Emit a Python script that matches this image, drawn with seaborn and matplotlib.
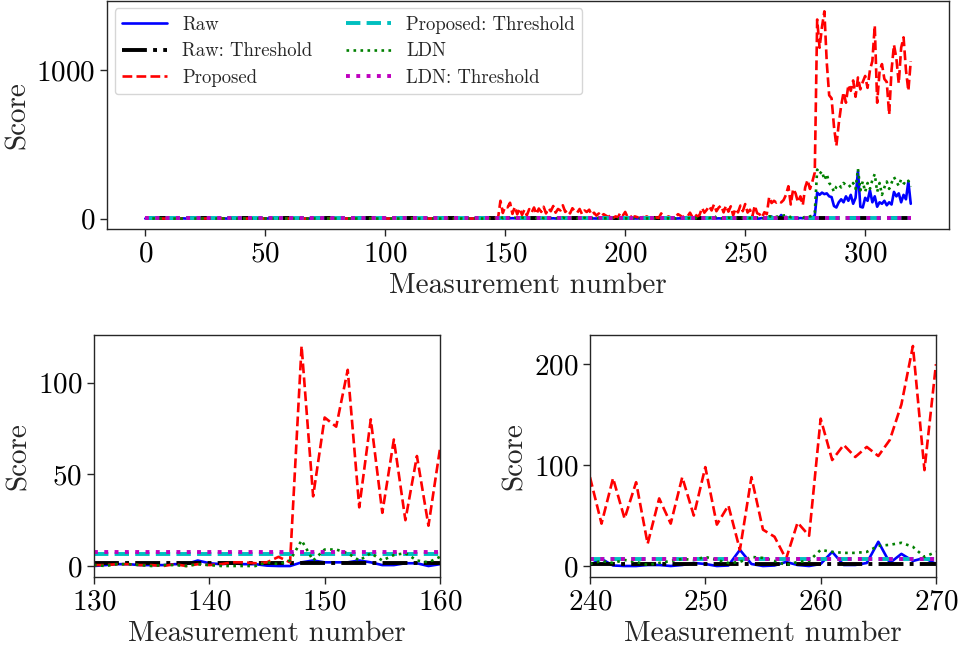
import pandas as pd
import matplotlib.pyplot as plt
import seaborn as sns

raw = [
    0.5, 1.0, 0.2, 1.5, 0.8, 0.3, 1.2, 0.6, 0.1, 0.9,        # 0
    1.4, 0.4, 0.7, 1.1, 0.2, 0.9, 1.6, 0.5, 0.3, 1.0,        # 10
    0.6, 1.3, 0.2, 0.8, 1.1, 0.4, 0.7, 1.5, 0.3, 0.9,        # 20
    1.2, 0.5, 0.2, 1.0, 0.6, 1.4, 0.3, 0.8, 1.1, 0.4,        # 30
    0.9, 1.6, 0.5, 0.2, 1.0, 0.7, 1.3, 0.4, 0.8, 1.2,        # 40
    0.3, 0.9, 1.5, 0.6, 0.2, 1.1, 0.7, 0.4, 1.3, 0.8,        # 50
    0.5, 1.0, 0.3, 1.4, 0.9, 0.2, 0.7, 1.2, 0.5, 1.0,        # 60
    1.6, 0.4, 0.8, 0.3, 1.1, 0.6, 1.3, 0.2, 0.9, 0.5,        # 70
    1.2, 0.7, 0.3, 1.0, 1.5, 0.4, 0.8, 0.2, 1.1, 0.6,        # 80
    0.9, 1.4, 0.5, 0.3, 1.0, 0.7, 1.2, 0.4, 0.8, 1.3,        # 90
    0.2, 0.9, 0.6, 1.1, 1.5, 0.3, 0.8, 0.5, 1.0, 0.4,        # 100
    1.3, 0.7, 0.2, 0.9, 1.2, 0.6, 0.3, 1.0, 1.4, 0.5,        # 110
    0.8, 0.2, 1.1, 0.6, 0.9, 1.3, 0.4, 0.7, 1.0, 0.3,        # 120
    0.0, 0.5, 1.0, 1.0, 0.5, 0.5, 0.5, 1.0, 1.0, 3.0,        # 130
    1.5, 1.0, 1.5, 1.0, 1.0, 0.2, 0.0, 0.0, 2.0, 3.0,        # 140
    2.0, 2.0, 2.0, 3.0, 2.0, 0.5, 0.5, 1.5, 1.5, 0.0,        # 150
    1.0, 1.5, 0.8, 2.0, 1.2, 0.6, 1.8, 1.0, 0.4, 1.5,        # 160
    2.2, 0.9, 1.3, 0.5, 1.7, 1.1, 0.3, 1.4, 2.0, 0.8,        # 170
    1.2, 0.6, 1.9, 1.0, 0.4, 1.6, 0.9, 1.3, 0.7, 2.1,        # 180
    1.0, 0.5, 1.4, 0.8, 1.8, 1.1, 0.3, 1.5, 0.9, 1.2,        # 190
    0.6, 1.7, 1.0, 0.4, 1.3, 0.8, 2.0, 1.1, 0.5, 1.4,        # 200
    0.9, 1.6, 0.7, 1.2, 0.3, 1.0, 1.8, 0.6, 1.3, 0.9,        # 210
    1.5, 0.4, 1.1, 2.0, 0.8, 1.3, 0.5, 1.7, 1.0, 1.4,        # 220
    0.7, 2.2, 1.2, 0.9, 3.5, 1.5, 6.0, 2.0, 1.0, 1.8,        # 230
    1.0, 7.0, 0.5, 0.0, 0.0, 1.0, 1.0, 0.0, 1.0, 3.0,        # 240
    2.0, 0.0, 0.5, 16.0, 2.0, 0.0, 0.5, 4.0, 1.0, 0.0,       # 250
    2.0, 14.0, 1.0, 1.0, 3.0, 24.0, 3.0, 12.0, 5.0, 8.0,     # 260
    2.0, 3.0, 1.5, 4.0, 2.5, 5.0, 3.0, 6.0, 8.0, 20.0,       # 270
    175, 160, 175, 165, 170, 150, 145, 85, 75, 110,          # 280
    130, 110, 150, 120, 160, 100, 140, 320, 80, 75,          # 290
    140, 120, 190, 110, 150, 80, 110, 100, 120, 90,          # 300
    110, 95, 180, 150, 170, 110, 160, 130, 250, 100,         # 310
]

proposed = [
    1.0, 0.5, 1.2, 0.3, 0.8, 1.5, 0.4, 0.9, 0.2, 1.1,        # 0
    0.6, 1.3, 0.4, 0.8, 1.6, 0.3, 0.7, 1.0, 0.5, 1.2,        # 10
    0.2, 0.9, 1.4, 0.6, 0.3, 1.1, 0.8, 0.4, 1.3, 0.7,        # 20
    0.5, 1.0, 1.6, 0.3, 0.8, 0.4, 1.2, 0.9, 0.2, 1.0,        # 30
    1.4, 0.6, 0.3, 1.1, 0.7, 1.5, 0.4, 0.9, 1.2, 0.5,        # 40
    0.8, 0.3, 1.3, 1.0, 0.6, 0.2, 1.4, 0.7, 0.9, 1.1,        # 50
    0.4, 1.6, 0.8, 0.5, 1.0, 1.3, 0.3, 0.9, 0.6, 1.2,        # 60
    0.2, 1.0, 1.5, 0.7, 0.4, 1.1, 0.8, 1.4, 0.3, 0.9,        # 70
    1.2, 0.6, 0.3, 1.0, 0.8, 1.6, 0.5, 0.9, 1.3, 0.4,        # 80
    0.7, 1.1, 0.2, 1.4, 0.9, 0.5, 1.2, 0.8, 0.3, 1.0,        # 90
    1.5, 0.6, 0.9, 0.4, 1.3, 0.7, 1.0, 0.2, 1.1, 0.8,        # 100
    0.5, 1.4, 0.9, 0.3, 1.2, 0.6, 1.0, 1.6, 0.4, 0.8,        # 110
    1.1, 0.3, 0.7, 1.3, 0.5, 1.0, 0.8, 1.4, 0.6, 0.9,        # 120
    0.5, 0.5, 1.0, 1.0, 0.5, 0.5, 0.0, 1.0, 0.0, 1.0,        # 130
    0.5, 1.0, 2.0, 2.0, 1.5, 2.0, 5.0, 2.0, 120, 38,         # 140
    81, 76, 107, 32, 80, 29, 69, 25, 60, 22,                 # 150
    64, 40, 75, 30, 68, 45, 80, 35, 70, 50,                  # 160
    85, 40, 65, 55, 90, 45, 60, 35, 70, 50,                  # 170
    40, 65, 30, 55, 45, 60, 25, 40, 20, 35,                  # 180
    15, 30, 20, 10, 25, 5, 15, 10, 40, 20,                   # 190
    45, 10, 20, 5, 15, 10, 5, 12, 8, 15,                     # 200
    5, 10, 3, 8, 5, 35, 10, 5, 15, 8,                        # 210
    3, 10, 30, 20, 8, 25, 15, 40, 10, 30,                    # 220
    15, 25, 72, 40, 60, 85, 55, 95, 50, 75,                  # 230
    88, 42, 87, 47, 83, 22, 67, 42, 88, 50,                  # 240
    98, 41, 60, 16, 88, 36, 29, 7, 43, 30,                   # 250
    146, 105, 120, 108, 118, 109, 125, 160, 218, 95,         # 260
    200, 170, 110, 150, 90, 210, 260, 200, 250, 310,         # 270
    1340, 1150, 1290, 1395, 1050, 830, 810, 620, 490, 640,   # 280
    760, 850, 780, 900, 860, 930, 820, 950, 870, 920,        # 290
    960, 880, 1000, 1060, 1300, 780, 990, 1040, 940, 920,    # 300
    700, 1000, 1170, 1080, 910, 1150, 1220, 1000, 860, 1060, # 310
]

ldn = [
    0.3, 0.8, 0.1, 0.5, 1.0, 0.2, 0.6, 0.4, 0.9, 0.1,        # 0
    0.5, 0.7, 0.2, 1.1, 0.4, 0.3, 0.8, 0.1, 0.6, 0.9,        # 10
    0.2, 0.5, 1.0, 0.3, 0.7, 0.1, 0.8, 0.4, 0.6, 0.2,        # 20
    0.9, 0.3, 0.5, 1.2, 0.1, 0.6, 0.4, 0.8, 0.2, 0.7,        # 30
    0.5, 0.1, 1.0, 0.3, 0.6, 0.9, 0.2, 0.4, 0.8, 0.3,        # 40
    0.6, 1.1, 0.2, 0.5, 0.7, 0.1, 0.9, 0.4, 0.3, 0.8,        # 50
    0.1, 0.6, 0.4, 1.0, 0.2, 0.7, 0.5, 0.3, 0.9, 0.1,        # 60
    0.5, 0.8, 0.2, 0.6, 1.1, 0.3, 0.4, 0.7, 0.1, 0.9,        # 70
    0.3, 0.5, 1.0, 0.2, 0.6, 0.4, 0.8, 0.1, 0.7, 0.3,        # 80
    0.9, 0.2, 0.5, 0.8, 0.1, 1.0, 0.4, 0.6, 0.3, 0.7,        # 90
    0.2, 0.8, 0.4, 0.1, 0.9, 0.5, 0.3, 1.1, 0.6, 0.2,        # 100
    0.7, 0.4, 0.9, 0.3, 0.5, 0.1, 0.8, 0.6, 0.2, 1.0,        # 110
    0.4, 0.7, 0.1, 0.5, 0.9, 0.3, 0.6, 0.2, 0.8, 0.4,        # 120
    0.5, 0.0, 1.0, 1.0, 0.5, 0.0, 0.5, 0.5, 0.0, 1.0,        # 130
    0.5, 0.0, 0.0, 0.0, 0.0, 2.0, 1.0, 3.0, 14.0, 3.0,       # 140
    9.0, 9.0, 7.0, 3.0, 7.0, 3.0, 6.0, 7.0, 3.0, 2.0,        # 150
    5.0, 3.0, 6.0, 2.5, 4.0, 7.0, 3.0, 5.0, 2.0, 6.0,        # 160
    4.0, 2.0, 5.5, 3.0, 7.0, 2.5, 4.0, 6.0, 3.0, 5.0,        # 170
    2.0, 4.5, 3.0, 6.0, 2.0, 3.5, 5.0, 1.5, 4.0, 2.5,        # 180
    3.0, 1.0, 2.5, 4.0, 1.5, 2.0, 3.0, 1.0, 2.5, 1.5,        # 190
    2.0, 1.0, 3.0, 1.5, 0.5, 2.0, 1.0, 2.5, 0.5, 1.5,        # 200
    1.0, 2.0, 0.5, 1.5, 1.0, 3.0, 1.0, 0.5, 2.0, 1.0,        # 210
    1.5, 0.5, 2.5, 1.0, 2.0, 3.0, 1.5, 4.0, 2.0, 3.5,        # 220
    2.5, 4.0, 5.0, 3.0, 6.0, 4.0, 8.0, 20.0, 5.0, 3.0,       # 230
    2, 5, 3, 6, 4, 1, 3, 5, 7, 6,                            # 240
    9, 6, 3, 4, 9, 8, 5, 1, 4, 5,                            # 250
    16, 14, 13, 13, 14, 20, 21, 23, 19, 9,                   # 260
    14, 8, 5, 10, 6, 12, 8, 15, 20, 40,                      # 270
    330, 300, 320, 260, 300, 240, 220, 180, 215, 230,        # 280
    210, 240, 225, 230, 210, 240, 200, 335, 190, 250,        # 290
    180, 240, 200, 260, 300, 180, 240, 160, 210, 250,        # 300
    200, 240, 280, 250, 220, 265, 240, 230, 255, 215,        # 310
]

raw_threshold = 1.8
proposed_threshold = 6.8
ldn_threshold = 7.4

measurement = list(range(len(raw)))

df = pd.DataFrame({
    "Measurement": measurement,
    "Raw": raw,
    "Raw: Threshold": [raw_threshold] * len(raw),
    "Proposed": proposed,
    "Proposed: Threshold": [proposed_threshold] * len(raw),
    "LDN": ldn,
    "LDN: Threshold": [ldn_threshold] * len(raw),
})

# name, colour, linestyle, linewidth
series = [
    ("Raw", "b", "-", 1.9),
    ("Raw: Threshold", "k", "-.", 2.8),
    ("Proposed", "r", "--", 1.9),
    ("Proposed: Threshold", "c", "--", 2.8),
    ("LDN", "g", ":", 1.9),
    ("LDN: Threshold", "m", ":", 2.8),
]

sns.set_style("ticks")
plt.rcParams["font.family"] = "serif"
plt.rcParams["font.serif"] = ["cmr10", "DejaVu Serif"]
plt.rcParams["mathtext.fontset"] = "cm"
plt.rcParams["axes.formatter.use_mathtext"] = True
plt.rcParams["axes.edgecolor"] = "0.15"
plt.rcParams["axes.linewidth"] = 1.0

FS = 21


def draw(ax, data, with_labels):
    for name, color, ls, lw in series:
        sns.lineplot(data=data, x="Measurement", y=name, ax=ax, color=color,
                     linestyle=ls, linewidth=lw,
                     label=name if with_labels else None)
    ax.set_xlabel("Measurement number", fontsize=FS)
    ax.set_ylabel("Score", fontsize=FS)
    ax.tick_params(labelsize=FS, length=5, width=1, colors="0.15", labelcolor="k")


fig = plt.figure(figsize=(9.59, 6.5), dpi=100)

# --- Full run ---
ax_top = fig.add_axes([0.1116, 0.6477, 0.8780, 0.3508])
draw(ax_top, df, True)
ax_top.set_xticks([0, 50, 100, 150, 200, 250, 300])
ax_top.set_yticks([0, 1000])
ax_top.legend(loc="upper left", ncol=2, fontsize=13.5, handlelength=2.4,
              columnspacing=1.8, labelspacing=0.45, borderaxespad=0.4)

# --- Zoom: onset around 150 ---
left = df[(df["Measurement"] >= 130) & (df["Measurement"] <= 160)]
ax_bl = fig.add_axes([0.0980, 0.1123, 0.3608, 0.3723])
draw(ax_bl, left, False)
ax_bl.set_xlim(130, 160)
ax_bl.set_xticks([130, 140, 150, 160])
ax_bl.set_yticks([0, 50, 100])

# --- Zoom: rise before 270 ---
right = df[(df["Measurement"] >= 240) & (df["Measurement"] <= 270)]
ax_br = fig.add_axes([0.6152, 0.1123, 0.3608, 0.3723])
draw(ax_br, right, False)
ax_br.set_xlim(240, 270)
ax_br.set_xticks([240, 250, 260, 270])
ax_br.set_yticks([0, 100, 200])

for ax in (ax_bl, ax_br):
    if ax.get_legend() is not None:
        ax.get_legend().remove()

fig.savefig("out.png", dpi=100)
